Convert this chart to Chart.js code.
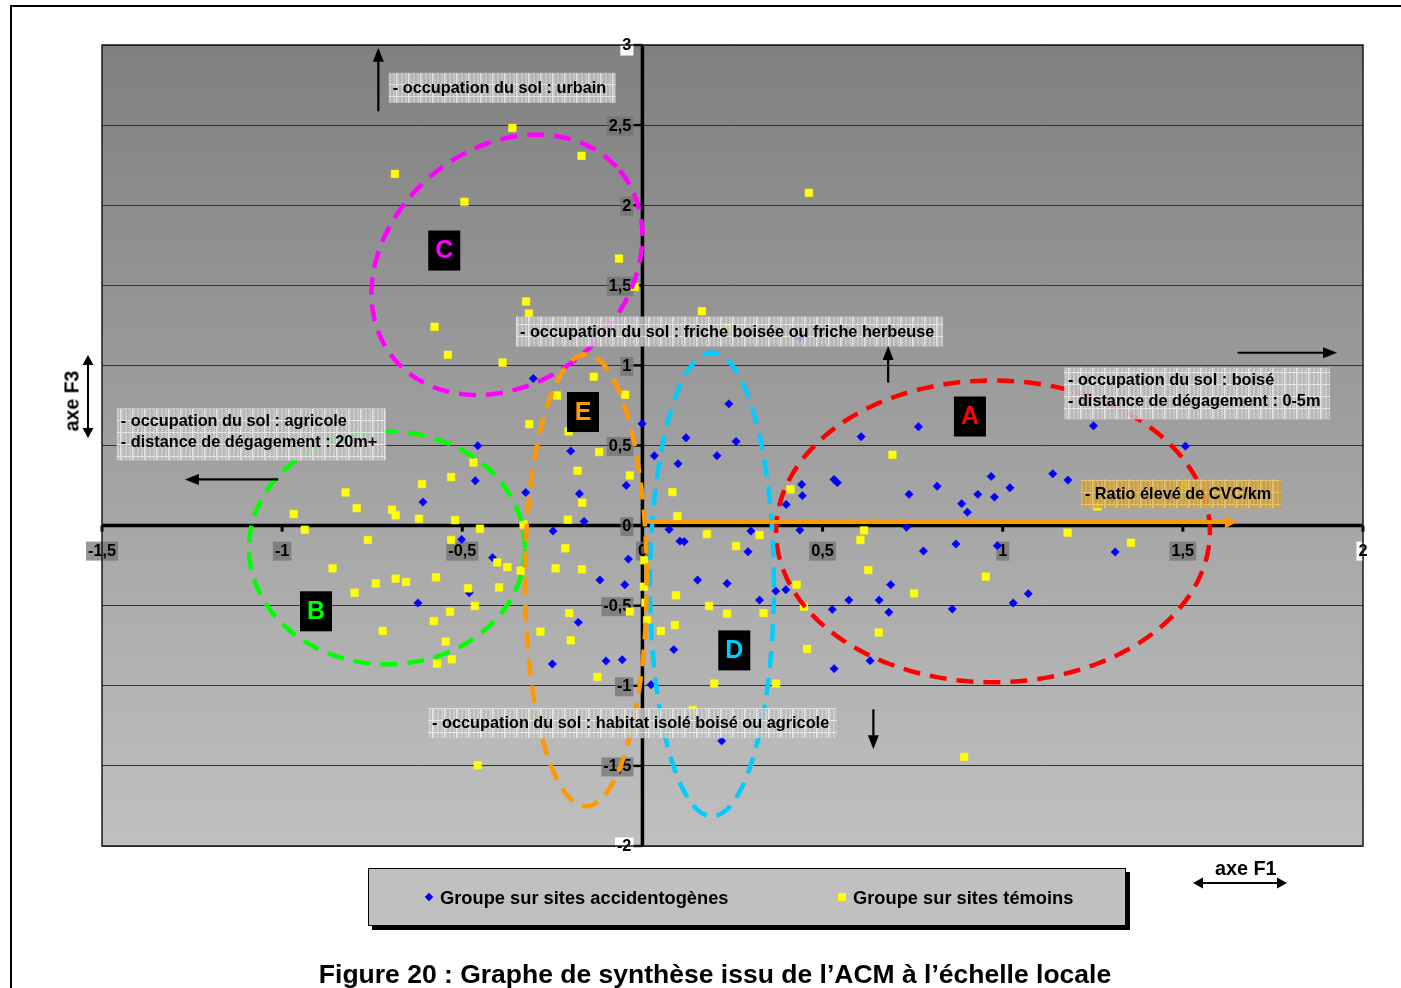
<!DOCTYPE html>
<html>
<head>
<meta charset="utf-8">
<script src="https://cdn.jsdelivr.net/npm/chart.js@4.4.1/dist/chart.umd.min.js"></script>
<style>
  html, body { margin: 0; padding: 0; background: #fff; }
  body { width: 1401px; height: 988px; position: relative; overflow: hidden; font-family: "Liberation Sans", Arial, sans-serif; }
  #frame { position: absolute; left: 10px; top: 5px; width: 1420px; height: 1020px; border: 2px solid #000; box-sizing: border-box; }
  #chart { position: absolute; left: 0; top: 0; }
  #legend { position: absolute; left: 368px; top: 868px; width: 758px; height: 58px; background: #c0c0c0; border: 1px solid #000; box-shadow: 4px 4px 0 #000; box-sizing: border-box; font-weight: bold; font-size: 18.3px; color: #000; }
  .item { position: absolute; top: 18px; line-height: 21px; white-space: nowrap; }
  .mk { position: absolute; }
  #axeF3 { position: absolute; left: 72px; top: 401px; transform: translate(-50%, -50%) rotate(-90deg); font-weight: bold; font-size: 19.5px; white-space: nowrap; }
  #axeF1 { position: absolute; left: 1215px; top: 857px; font-weight: bold; font-size: 19.8px; white-space: nowrap; }
  #title { position: absolute; left: 0; width: 1430px; top: 959px; text-align: center; font-weight: bold; font-size: 26.5px; white-space: nowrap; }
</style>
</head>
<body>
<div id="frame"></div>
<canvas id="chart" width="1401" height="988"></canvas>
<div id="legend">
  <div class="mk" style="left:57px;top:25px;width:6px;height:6px;background:#0000ff;transform:rotate(45deg);"></div>
  <div class="item" style="left:71px;">Groupe sur sites accidentogènes</div>
  <div class="mk" style="left:469px;top:24px;width:8px;height:8px;background:#ffff00;"></div>
  <div class="item" style="left:484px;">Groupe sur sites témoins</div>
</div>
<div id="axeF3">axe F3</div>
<div id="axeF1">axe F1</div>
<div id="title">Figure 20 : Graphe de synthèse issu de l’ACM à l’échelle locale</div>
<script>
// Factor coordinates (axe F1, axe F3) of the accident-prone sites
const sitesAccidentogenes = [
  [0.437,1.166],[-0.303,0.918],[0.240,0.760],[-0.001,0.636],[0.121,0.548],[0.260,0.525],
  [0.607,0.555],[0.766,0.617],[-0.457,0.498],[-0.199,0.465],[0.207,0.436],[0.033,0.436],
  [0.099,0.386],[-0.464,0.280],[-0.045,0.251],[-0.324,0.207],[-0.175,0.199],[-0.609,0.147],
  [0.442,0.257],[0.444,0.187],[0.399,0.132],[0.532,0.288],[0.541,0.268],[0.740,0.195],
  [0.818,0.246],[-0.162,0.026],[-0.248,-0.034],[0.074,-0.024],[0.301,-0.034],[0.437,-0.028],
  [0.733,-0.011],[0.780,-0.159],[0.104,-0.097],[0.116,-0.100],[0.293,-0.163],[-0.039,-0.209],
  [-0.118,-0.340],[-0.049,-0.369],[0.153,-0.340],[0.235,-0.361],[0.689,-0.369],[0.398,-0.400],
  [0.370,-0.409],[0.325,-0.465],[0.527,-0.523],[0.573,-0.465],[0.657,-0.465],[0.684,-0.541],
  [-0.178,-0.604],[0.087,-0.774],[-0.250,-0.864],[-0.101,-0.845],[-0.056,-0.837],[0.532,-0.893],
  [0.632,-0.843],[0.024,-0.993],[0.220,-1.344],[1.071,-0.425],[1.029,-0.483],[0.860,-0.521],
  [1.252,0.623],[1.507,0.496],[0.968,0.307],[1.139,0.324],[1.181,0.284],[1.020,0.236],
  [0.931,0.195],[0.977,0.178],[0.886,0.137],[0.902,0.084],[1.307,0.178],[1.463,0.178],
  [1.312,-0.165],[0.870,-0.115],[0.985,-0.125],[-0.502,-0.086],[-0.416,-0.200],[-0.481,-0.419],
  [-0.623,-0.483]
];

// Factor coordinates (axe F1, axe F3) of the control sites
const sitesTemoins = [
  [-0.361,2.482],[-0.687,2.195],[-0.494,2.021],[-0.169,2.308],[0.462,2.077],[-0.065,1.667],
  [-0.021,1.490],[-0.323,1.399],[-0.315,1.324],[0.165,1.338],[-0.577,1.241],[-0.540,1.066],
  [-0.388,1.018],[0.234,1.235],[-0.135,0.929],[-0.237,0.812],[-0.048,0.817],[-0.314,0.633],
  [-0.205,0.588],[-0.120,0.459],[0.694,0.442],[-0.469,0.394],[-0.180,0.342],[-0.531,0.303],
  [-0.035,0.313],[-0.612,0.259],[-0.824,0.207],[0.083,0.209],[0.411,0.226],[-0.167,0.143],
  [-0.793,0.109],[-0.695,0.099],[-0.685,0.064],[-0.620,0.043],[-0.520,0.034],[-0.968,0.072],
  [0.097,0.059],[-0.207,0.037],[-0.937,-0.026],[-0.451,-0.019],[-0.330,0.007],[-0.531,-0.090],
  [-0.762,-0.090],[0.179,-0.053],[0.325,-0.059],[0.615,-0.030],[0.605,-0.090],[0.260,-0.128],
  [-0.214,-0.142],[0.005,-0.217],[-0.403,-0.230],[-0.375,-0.259],[-0.338,-0.281],[-0.860,-0.267],
  [-0.241,-0.267],[-0.168,-0.273],[0.627,-0.278],[-0.685,-0.331],[-0.573,-0.323],[-0.656,-0.352],
  [-0.740,-0.361],[-0.799,-0.419],[-0.484,-0.392],[-0.398,-0.386],[0.428,-0.369],[0.004,-0.381],
  [0.754,-0.423],[0.093,-0.435],[0.008,-0.481],[-0.465,-0.502],[-0.534,-0.537],[-0.035,-0.537],
  [0.185,-0.502],[0.235,-0.550],[0.336,-0.546],[0.448,-0.506],[-0.203,-0.546],[-0.579,-0.596],
  [0.013,-0.591],[-0.283,-0.662],[-0.721,-0.658],[0.051,-0.658],[0.090,-0.621],[-0.199,-0.716],
  [-0.546,-0.724],[0.656,-0.668],[0.457,-0.770],[-0.529,-0.835],[-0.570,-0.862],[-0.125,-0.945],
  [0.199,-0.986],[0.371,-0.986],[0.140,-1.151],[-0.457,-1.496],[0.893,-1.444],[0.953,-0.319],
  [1.506,0.245],[1.263,0.120],[1.180,-0.044],[1.356,-0.107]
];

// Axis ticks and their French-formatted labels
const xTicks = [-1.5, -1, -0.5, 0, 0.5, 1, 1.5, 2];
const xTickLabels = ['-1,5', '-1', '-0,5', '0', '0,5', '1', '1,5', '2'];
const yTicks = [3, 2.5, 2, 1.5, 1, 0.5, 0, -0.5, -1, -1.5, -2];
const yTickLabels = ['3', '2,5', '2', '1,5', '1', '0,5', '0', '-0,5', '-1', '-1,5', '-2'];

// Group names drawn in the plot
const groupNames = ['A', 'B', 'C', 'D', 'E'];
const groupColors = ['#ff0000', '#00ff00', '#ff00ff', '#00ccff', '#ff9900'];

// Interpretation notes drawn on the factor plane
const notes = [
  ['- occupation du sol : urbain'],
  ['- occupation du sol : friche boisée ou friche herbeuse'],
  ['- occupation du sol : agricole', '- distance de dégagement : 20m+'],
  ['- occupation du sol : boisé', '- distance de dégagement : 0-5m'],
  ['- Ratio élevé de CVC/km'],
  ['- occupation du sol : habitat isolé boisé ou agricole']
];

// ---- layout of the annotations, in axis units ----
// ellipse: centre + two conjugate semi-axis vectors
const groupShapes = [
  { c: [0.973, -0.036], u: [0.602, 0], v: [0, 0.942] },             // A
  { c: [-0.709, -0.139], u: [0.383, 0], v: [0, 0.727] },            // B
  { c: [-0.376, 1.628], u: [0.3126, 0.5895], v: [0.2088, -0.559] }, // C
  { c: [0.193, -0.367], u: [0.172, 0], v: [0, 1.447] },             // D
  { c: [-0.157, -0.342], u: [0.169, 0], v: [0, 1.410] }             // E
];
const groupTags = [[0.909, 0.681], [-0.906, -0.535], [-0.550, 1.717], [0.255, -0.779], [-0.165, 0.709]];
// note boxes: left/top corner in axis units, box width/height in px
const noteBoxes = [
  { at: [-0.704, 2.826], w: 227, h: 30, gold: false },
  { at: [-0.351, 1.305], w: 427, h: 30, gold: false },
  { at: [-1.459, 0.731], w: 269, h: 52, gold: false },
  { at: [1.170, 0.987], w: 266, h: 52, gold: false },
  { at: [1.217, 0.289], w: 200, h: 29, gold: true },
  { at: [-0.595, -1.140], w: 409, h: 30, gold: false }
];
const noteArrows = [
  { from: [-0.733, 2.586], to: [-0.733, 2.983] },
  { from: [0.682, 0.893], to: [0.682, 1.121] },
  { from: [1.652, 1.079], to: [1.928, 1.079] },
  { from: [-1.011, 0.288], to: [-1.270, 0.288] },
  { from: [0.641, -1.147], to: [0.641, -1.396] }
];
const ratioArrow = { from: [0.021, 0.022], to: [1.650, 0.022] };

const FONT = '"Liberation Sans", Arial, sans-serif';

function makeHatch(ctx, base, dark, light, line) {
  const c = document.createElement('canvas');
  c.width = 12; c.height = 12;
  const g = c.getContext('2d');
  g.fillStyle = base; g.fillRect(0, 0, 12, 12);
  for (let y = 0; y < 12; y++) {
    for (let x = 0; x < 12; x++) {
      if ((x + y) % 2 === 0) {
        g.fillStyle = ((x + 2 * y) % 4 < 2) ? dark : light;
        g.fillRect(x, y, 1, 1);
      }
    }
  }
  g.fillStyle = line;
  g.fillRect(0, 0, 12, 1);
  g.fillRect(0, 0, 1, 12);
  return ctx.createPattern(c, 'repeat');
}

function arrowHead(ctx, x1, y1, x2, y2, len, half) {
  const a = Math.atan2(y2 - y1, x2 - x1);
  ctx.beginPath();
  ctx.moveTo(x2, y2);
  ctx.lineTo(x2 - len * Math.cos(a) + half * Math.sin(a), y2 - len * Math.sin(a) - half * Math.cos(a));
  ctx.lineTo(x2 - len * Math.cos(a) - half * Math.sin(a), y2 - len * Math.sin(a) + half * Math.cos(a));
  ctx.closePath();
  ctx.fill();
}

function drawArrow(ctx, x1, y1, x2, y2, color, width, len, half) {
  const a = Math.atan2(y2 - y1, x2 - x1);
  ctx.save();
  ctx.strokeStyle = color; ctx.fillStyle = color; ctx.lineWidth = width;
  ctx.beginPath();
  ctx.moveTo(x1, y1);
  ctx.lineTo(x2 - (len - 1) * Math.cos(a), y2 - (len - 1) * Math.sin(a));
  ctx.stroke();
  arrowHead(ctx, x1, y1, x2, y2, len, half);
  ctx.restore();
}

const factorPlane = {
  id: 'factorPlane',
  beforeDraw(chart) {
    const { ctx, chartArea: a } = chart;
    const g = ctx.createLinearGradient(0, a.top, 0, a.bottom);
    g.addColorStop(0, '#808080');
    g.addColorStop(1, '#c0c0c0');
    ctx.save();
    ctx.fillStyle = g;
    ctx.fillRect(a.left, a.top, a.right - a.left, a.bottom - a.top);
    ctx.restore();
  },
  beforeDatasetsDraw(chart) {
    const { ctx, chartArea: a, scales: { x, y } } = chart;
    const x0 = x.getPixelForValue(0), y0 = y.getPixelForValue(0);
    ctx.save();
    // main axes
    ctx.strokeStyle = '#000';
    ctx.lineWidth = 3.5;
    ctx.beginPath();
    ctx.moveTo(a.left, y0); ctx.lineTo(a.right, y0);
    ctx.moveTo(x0, a.top); ctx.lineTo(x0, a.bottom);
    ctx.stroke();
    ctx.fillStyle = '#000';
    xTicks.forEach(v => ctx.fillRect(x.getPixelForValue(v) - 1.5, y0, 3, 6));
    yTicks.forEach(v => ctx.fillRect(x0 - 9, y.getPixelForValue(v) - 1.2, 9, 2.4));
    // tick labels with their backdrops
    ctx.font = 'bold 16.3px ' + FONT;
    ctx.textBaseline = 'middle';
    yTicks.forEach((v, i) => {
      const t = yTickLabels[i];
      const py = y.getPixelForValue(v);
      const w = ctx.measureText(t).width;
      const right = x0 - 11;
      ctx.fillStyle = (v === 3 || v === -2) ? '#ffffff' : 'rgba(112,112,112,0.72)';
      ctx.fillRect(right - w - 2, py - 8.5, w + 4, 19);
      ctx.fillStyle = '#000';
      ctx.textAlign = 'right';
      ctx.fillText(t, right, py + 1);
    });
    xTicks.forEach((v, i) => {
      const t = xTickLabels[i];
      const px = x.getPixelForValue(v);
      const w = ctx.measureText(t).width;
      ctx.fillStyle = (v === 2) ? '#ffffff' : 'rgba(112,112,112,0.72)';
      ctx.fillRect(px - w / 2 - 2, y0 + 16, w + 4, 19);
      ctx.fillStyle = '#000';
      ctx.textAlign = 'center';
      ctx.fillText(t, px, y0 + 25.5);
    });
    ctx.restore();
  },
  afterDatasetsDraw(chart) {
    const { ctx, chartArea: a, scales: { x, y } } = chart;
    const X = v => x.getPixelForValue(v), Y = v => y.getPixelForValue(v);
    ctx.save();
    // group ellipses
    ctx.lineWidth = 4.5;
    ctx.setLineDash([17, 10]);
    ctx.lineCap = 'butt';
    groupShapes.forEach((s, i) => {
      ctx.strokeStyle = groupColors[i];
      ctx.beginPath();
      for (let k = 0; k <= 240; k++) {
        const t = k / 240 * Math.PI * 2;
        const px = X(s.c[0] + s.u[0] * Math.cos(t) + s.v[0] * Math.sin(t));
        const py = Y(s.c[1] + s.u[1] * Math.cos(t) + s.v[1] * Math.sin(t));
        if (k === 0) ctx.moveTo(px, py); else ctx.lineTo(px, py);
      }
      ctx.stroke();
    });
    ctx.setLineDash([]);

    // orange arrow along axe F1
    drawArrow(ctx, X(ratioArrow.from[0]), Y(ratioArrow.from[1]), X(ratioArrow.to[0]), Y(ratioArrow.to[1]), '#ff9900', 4, 12, 6.5);

    // note boxes
    const grey = makeHatch(ctx, '#c6c6c6', '#aeaeae', '#dcdcdc', '#f2f2f2');
    const gold = makeHatch(ctx, '#d8a743', '#c39234', '#e6b957', '#efcb72');
    ctx.font = 'bold 16.3px ' + FONT;
    ctx.textBaseline = 'middle';
    ctx.textAlign = 'left';
    noteBoxes.forEach((b, i) => {
      const left = X(b.at[0]), top = Y(b.at[1]);
      ctx.globalAlpha = 0.86;
      ctx.fillStyle = b.gold ? gold : grey;
      ctx.fillRect(left, top, b.w, b.h);
      ctx.globalAlpha = 1;
      ctx.fillStyle = '#000';
      notes[i].forEach((line, j) => {
        const cy = notes[i].length === 1 ? top + b.h / 2 + 0.5 : top + 13.5 + j * 21;
        ctx.fillText(line, left + 4, cy);
      });
    });

    // black arrows pointing to the interpretation of each axis direction
    noteArrows.forEach(ar => drawArrow(ctx, X(ar.from[0]), Y(ar.from[1]), X(ar.to[0]), Y(ar.to[1]), '#000', 2.2, 14, 5.5));

    // group tags
    ctx.font = 'bold 25px ' + FONT;
    ctx.textAlign = 'center';
    groupTags.forEach((p, i) => {
      const cx = X(p[0]), cy = Y(p[1]);
      ctx.fillStyle = '#000';
      ctx.fillRect(cx - 16, cy - 20, 32, 40);
      ctx.fillStyle = groupColors[i];
      ctx.fillText(groupNames[i], cx, cy + 1);
    });

    // plot border
    ctx.strokeStyle = '#1a1a1a';
    ctx.lineWidth = 1.5;
    ctx.strokeRect(a.left, a.top, a.right - a.left, a.bottom - a.top);
    ctx.restore();
  },
  afterDraw(chart) {
    const ctx = chart.ctx;
    ctx.save();
    // double arrows next to the axis titles
    ctx.fillStyle = '#000'; ctx.strokeStyle = '#000'; ctx.lineWidth = 2;
    ctx.beginPath(); ctx.moveTo(88, 362); ctx.lineTo(88, 431); ctx.stroke();
    arrowHead(ctx, 88, 400, 88, 355, 10, 5.5);
    arrowHead(ctx, 88, 400, 88, 438, 10, 5.5);
    ctx.beginPath(); ctx.moveTo(1201, 883); ctx.lineTo(1279, 883); ctx.stroke();
    arrowHead(ctx, 1240, 883, 1193, 883, 10, 5.5);
    arrowHead(ctx, 1240, 883, 1287, 883, 10, 5.5);
    ctx.restore();
  }
};

const toPoints = arr => arr.map(([px, py]) => ({ x: px, y: py }));

new Chart(document.getElementById('chart'), {
  type: 'scatter',
  data: {
    datasets: [
      {
        label: 'Groupe sur sites accidentogènes',
        data: toPoints(sitesAccidentogenes),
        pointStyle: 'rectRot',
        pointRadius: 4.2,
        backgroundColor: '#0000ff',
        borderColor: '#0000ff',
        borderWidth: 0.5,
        order: 1
      },
      {
        label: 'Groupe sur sites témoins',
        data: toPoints(sitesTemoins),
        pointStyle: 'rect',
        pointRadius: 5.4,
        backgroundColor: '#ffff00',
        borderColor: '#ffff00',
        borderWidth: 0.5,
        order: 0
      }
    ]
  },
  options: {
    responsive: false,
    animation: false,
    devicePixelRatio: 1,
    layout: { padding: { left: 102, top: 45, right: 38, bottom: 142 } },
    plugins: { legend: { display: false }, tooltip: { enabled: false } },
    scales: {
      x: {
        type: 'linear', min: -1.5, max: 2,
        ticks: { display: false, stepSize: 0.5 },
        grid: { display: false, drawTicks: false },
        border: { display: false }
      },
      y: {
        type: 'linear', min: -2, max: 3,
        ticks: { display: false, stepSize: 0.5 },
        grid: { color: '#333333', lineWidth: 1, drawTicks: false },
        border: { display: false }
      }
    }
  },
  plugins: [factorPlane]
});
</script>
</body>
</html>
